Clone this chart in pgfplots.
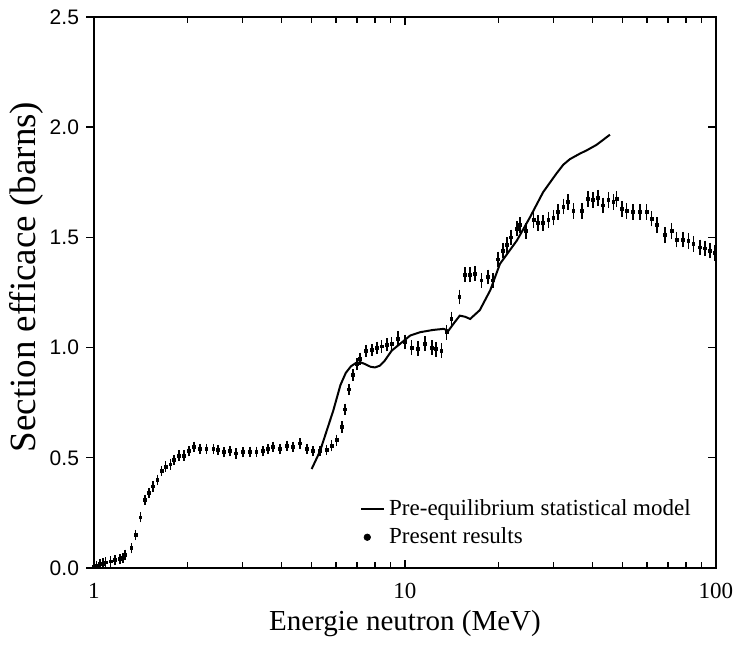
\documentclass[border=0pt]{standalone}
\usepackage{fontspec}
\setmainfont{Liberation Serif}
\newfontfamily\tickfont{Liberation Sans}
\usepackage{pgfplots}
\usepackage{pgfplotstable}
\pgfplotsset{compat=1.18}

\pgfplotstableread{
E y err
1.00 0.005 0.008
1.02 0.010 0.008
1.045 0.017 0.008
1.07 0.020 0.008
1.09 0.025 0.008
1.13 0.030 0.008
1.17 0.035 0.008
1.21 0.040 0.008
1.24 0.045 0.008
1.26 0.060 0.008
1.32 0.090 0.008
1.36 0.150 0.008
1.41 0.230 0.008
1.46 0.310 0.008
1.50 0.340 0.008
1.545 0.370 0.008
1.60 0.400 0.008
1.65 0.440 0.008
1.70 0.460 0.008
1.76 0.470 0.008
1.81 0.490 0.008
1.88 0.510 0.008
1.95 0.510 0.008
2.02 0.530 0.008
2.10 0.550 0.008
2.19 0.540 0.008
2.30 0.540 0.008
2.42 0.540 0.008
2.51 0.535 0.008
2.62 0.525 0.008
2.74 0.530 0.008
2.86 0.520 0.008
3.02 0.525 0.008
3.17 0.527 0.008
3.33 0.527 0.008
3.49 0.530 0.008
3.63 0.540 0.008
3.77 0.550 0.008
3.96 0.540 0.008
4.17 0.555 0.008
4.37 0.550 0.008
4.60 0.565 0.008
4.83 0.540 0.008
5.07 0.530 0.008
5.33 0.530 0.008
5.60 0.535 0.008
5.81 0.555 0.010
6.03 0.580 0.010
6.26 0.640 0.010
6.41 0.720 0.010
6.62 0.810 0.010
6.82 0.875 0.012
7.00 0.925 0.012
7.17 0.950 0.012
7.49 0.985 0.012
7.82 0.990 0.012
8.11 1.000 0.012
8.41 1.005 0.012
8.77 1.013 0.015
9.06 1.017 0.015
9.51 1.040 0.018
10.0 1.025 0.018
10.5 1.000 0.018
11.0 0.995 0.018
11.6 1.017 0.018
12.2 1.000 0.018
12.6 0.993 0.018
13.1 0.986 0.018
13.6 1.070 0.018
14.1 1.130 0.018
14.95 1.230 0.018
15.6 1.330 0.018
16.2 1.330 0.018
16.8 1.335 0.018
17.6 1.305 0.018
18.5 1.320 0.018
19.2 1.305 0.018
19.95 1.400 0.020
20.7 1.440 0.020
21.3 1.465 0.020
21.9 1.500 0.020
22.9 1.540 0.020
23.4 1.555 0.020
24.5 1.530 0.020
25.9 1.580 0.020
26.8 1.565 0.020
27.8 1.565 0.020
28.9 1.580 0.020
30.0 1.590 0.020
31.1 1.615 0.020
32.3 1.640 0.020
33.5 1.660 0.020
34.8 1.620 0.020
37.0 1.620 0.020
38.8 1.675 0.020
40.3 1.670 0.020
41.8 1.680 0.020
43.4 1.645 0.020
45.1 1.670 0.020
46.8 1.660 0.020
47.9 1.675 0.020
49.8 1.630 0.020
51.6 1.620 0.020
54.2 1.615 0.020
57.0 1.615 0.020
59.8 1.615 0.020
62.1 1.585 0.020
64.7 1.555 0.020
68.5 1.510 0.020
72.0 1.530 0.020
74.7 1.490 0.020
78.5 1.490 0.020
81.5 1.485 0.020
84.6 1.470 0.020
88.8 1.455 0.020
92.2 1.450 0.020
95.7 1.440 0.020
99.3 1.430 0.020
}\measured

\pgfplotstableread{
E y
5.01 0.449
5.33 0.530
5.88 0.714
6.20 0.830
6.45 0.885
6.70 0.915
6.95 0.930
7.20 0.933
7.45 0.925
7.75 0.913
8.01 0.910
8.30 0.918
8.60 0.940
9.06 0.986
9.64 1.017
10.4 1.055
11.2 1.070
12.3 1.080
13.3 1.085
13.8 1.077
14.3 1.107
15.0 1.145
15.6 1.140
16.2 1.130
17.4 1.170
18.8 1.260
20.2 1.380
22.9 1.486
25.2 1.590
27.8 1.705
30.7 1.790
32.3 1.830
33.9 1.855
36.5 1.880
38.4 1.895
41.3 1.920
45.6 1.966
}\model

\begin{document}
\begin{tikzpicture}
\begin{axis}[
  at={(0,0)}, anchor=south west,
  scale only axis, width=311pt, height=275.5pt,
  xmode=log, xmin=1, xmax=100, ymin=0, ymax=2.5,
  xtick={1,10,100}, xticklabels={1,10,100},
  ytick={0,0.5,1,1.5,2,2.5},
  yticklabel style={/pgf/number format/fixed,/pgf/number format/fixed zerofill,/pgf/number format/precision=1},
  /pgf/number format/assume math mode=true,
  yticklabel style={font=\tickfont\fontsize{10.5}{12}\selectfont, xshift=-4pt},
  xticklabel style={font=\rmfamily\fontsize{11.5}{13}\selectfont, yshift=-4pt},
  tick align=inside,
  ytick pos=right, yticklabel pos=left,
  major tick length=4pt, minor tick length=3pt,
  tick style={black, line width=0.7pt},
  axis line style={line width=0.8pt},
  xlabel={Energie neutron (MeV)},
  ylabel={Section efficace (barns)},
  xlabel style={font=\fontsize{14.5}{16}\selectfont, at={(axis description cs:0.5,-0.1)}, anchor=center},
  ylabel style={font=\fontsize{18.5}{20}\selectfont, at={(axis description cs:-0.108,0.528)}, anchor=center},
  legend style={draw=none, fill=none, at={(0.418,0.139)}, anchor=north west,
    font=\fontsize{11.5}{13}\selectfont, row sep=0.5pt},
  legend cell align=left,
]
\addplot[black, line width=1pt, forget plot] table[x=E, y=y] {\model};
\addplot[black, only marks, mark=square*, mark size=0.7pt, forget plot,
  error bars/.cd, y dir=both, y explicit,
  error bar style={line width=0.8pt},
  error mark options={black, mark size=1.7pt, line width=0.8pt}]
  table[x=E, y=y, y error=err] {\measured};
\addlegendimage{legend image code/.code={\draw[black, line width=0.9pt] (0pt,0pt) -- (11.5pt,0pt);}}
\addlegendentry{Pre-equilibrium statistical model}
\addlegendimage{legend image code/.code={\fill[black] (3pt,0pt) circle (1.6pt);}}
\addlegendentry{Present results}
\end{axis}
\begin{axis}[
  at={(0,0)}, anchor=south west,
  scale only axis, width=311pt, height=275.5pt,
  xmode=log, xmin=1, xmax=100, ymin=0, ymax=2.5,
  hide x axis, axis y line*=left,
  ytick={0,0.5,1,1.5,2,2.5}, yticklabels={},
  tick align=outside, major tick length=4pt,
  tick style={black, line width=0.7pt},
  axis line style={line width=0.8pt},
]
\end{axis}
\pgfresetboundingbox
\path (-47pt,-45pt) rectangle (319.5pt,284pt);
\end{tikzpicture}
\end{document}
